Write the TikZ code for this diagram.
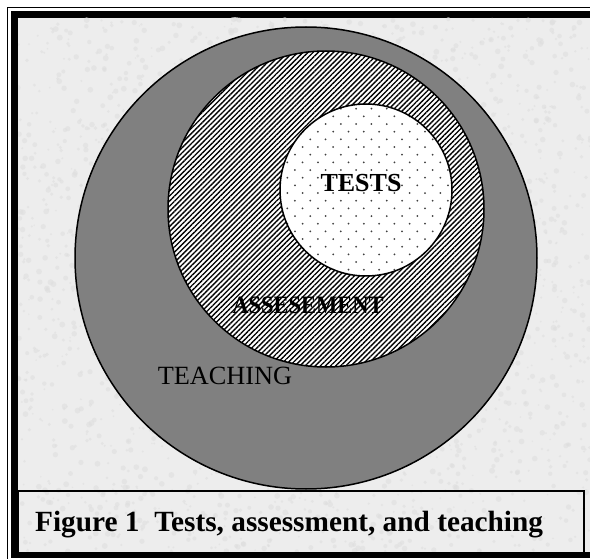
\documentclass[tikz,border=0pt]{standalone}
\usepackage{fontspec}
\setmainfont{Liberation Serif}
\usetikzlibrary{patterns.meta}
\definecolor{paper}{RGB}{237,237,237}
\definecolor{speck}{RGB}{222,222,222}
\definecolor{teachgray}{RGB}{128,128,128}
\tikzset{
  ring/.style={draw=black, line width=1.5pt},
  hatchfill/.style={pattern={Lines[angle=45,distance=3.6pt,line width=1.35pt]}, pattern color=black},
  lbl/.style={inner sep=0pt, text=black},
}
\begin{document}
\begin{tikzpicture}[x=1pt,y=-1pt]
\useasboundingbox (0,0) rectangle (590,559);
\fill[white] (0,0) rectangle (590,559);
% frame
\draw[line width=1.5pt] (7.5,570) -- (7.5,7.5) -- (600,7.5);
\fill[black] (11,558) rectangle (600,11);
\fill[paper] (18,18) rectangle (600,552);
% paper texture
\pgfmathsetseed{7}
\begin{scope}
\clip (18,18) rectangle (590,552);
\foreach \i in {1,...,2600} {
  \pgfmathsetmacro{\px}{18+rnd*572}
  \pgfmathsetmacro{\py}{18+rnd*534}
  \pgfmathsetmacro{\pr}{0.8+rnd*2.2}
  \fill[speck, opacity=0.55] (\px,\py) circle (\pr);
}
\end{scope}
% caption box
\draw[line width=1.5pt] (18,491) rectangle (584,552.5);
\node[lbl, anchor=base west, font=\bfseries\fontsize{29.3}{30}\selectfont] (caption) at (35,531) {Figure 1\ \ Tests, assessment, and teaching};
% teaching circle
\fill[teachgray] (306,258) circle (231);
\draw[ring] (306,258) circle (231);
% assessment circle
\fill[white] (326,209) circle (158);
\fill[hatchfill] (326,209) circle (158);
\draw[ring] (326,209) circle (158);
% tests circle
\fill[white] (366,190) circle (86);
\begin{scope}
\clip (366,190) circle (86);
\foreach \r in {0,...,24} {
  \foreach \c in {0,...,12} {
    \fill[black!75] ({272 + \c*15.3 + mod(\r,2)*7.65}, {101 + \r*7.67}) circle (1.0);
  }
}
\end{scope}
\draw[ring] (366,190) circle (86);
% labels
\node[lbl, font=\bfseries\fontsize{26}{26}\selectfont] (tests) at (361,183) {TESTS};
\node[lbl, font=\bfseries\fontsize{25}{25}\selectfont] (assess) at (308,305.5) {\scalebox{0.9}[1]{ASSESEMENT}};
\node[lbl, font=\fontsize{26.3}{26}\selectfont] (teaching) at (225,376) {TEACHING};
\end{tikzpicture}
\end{document}
